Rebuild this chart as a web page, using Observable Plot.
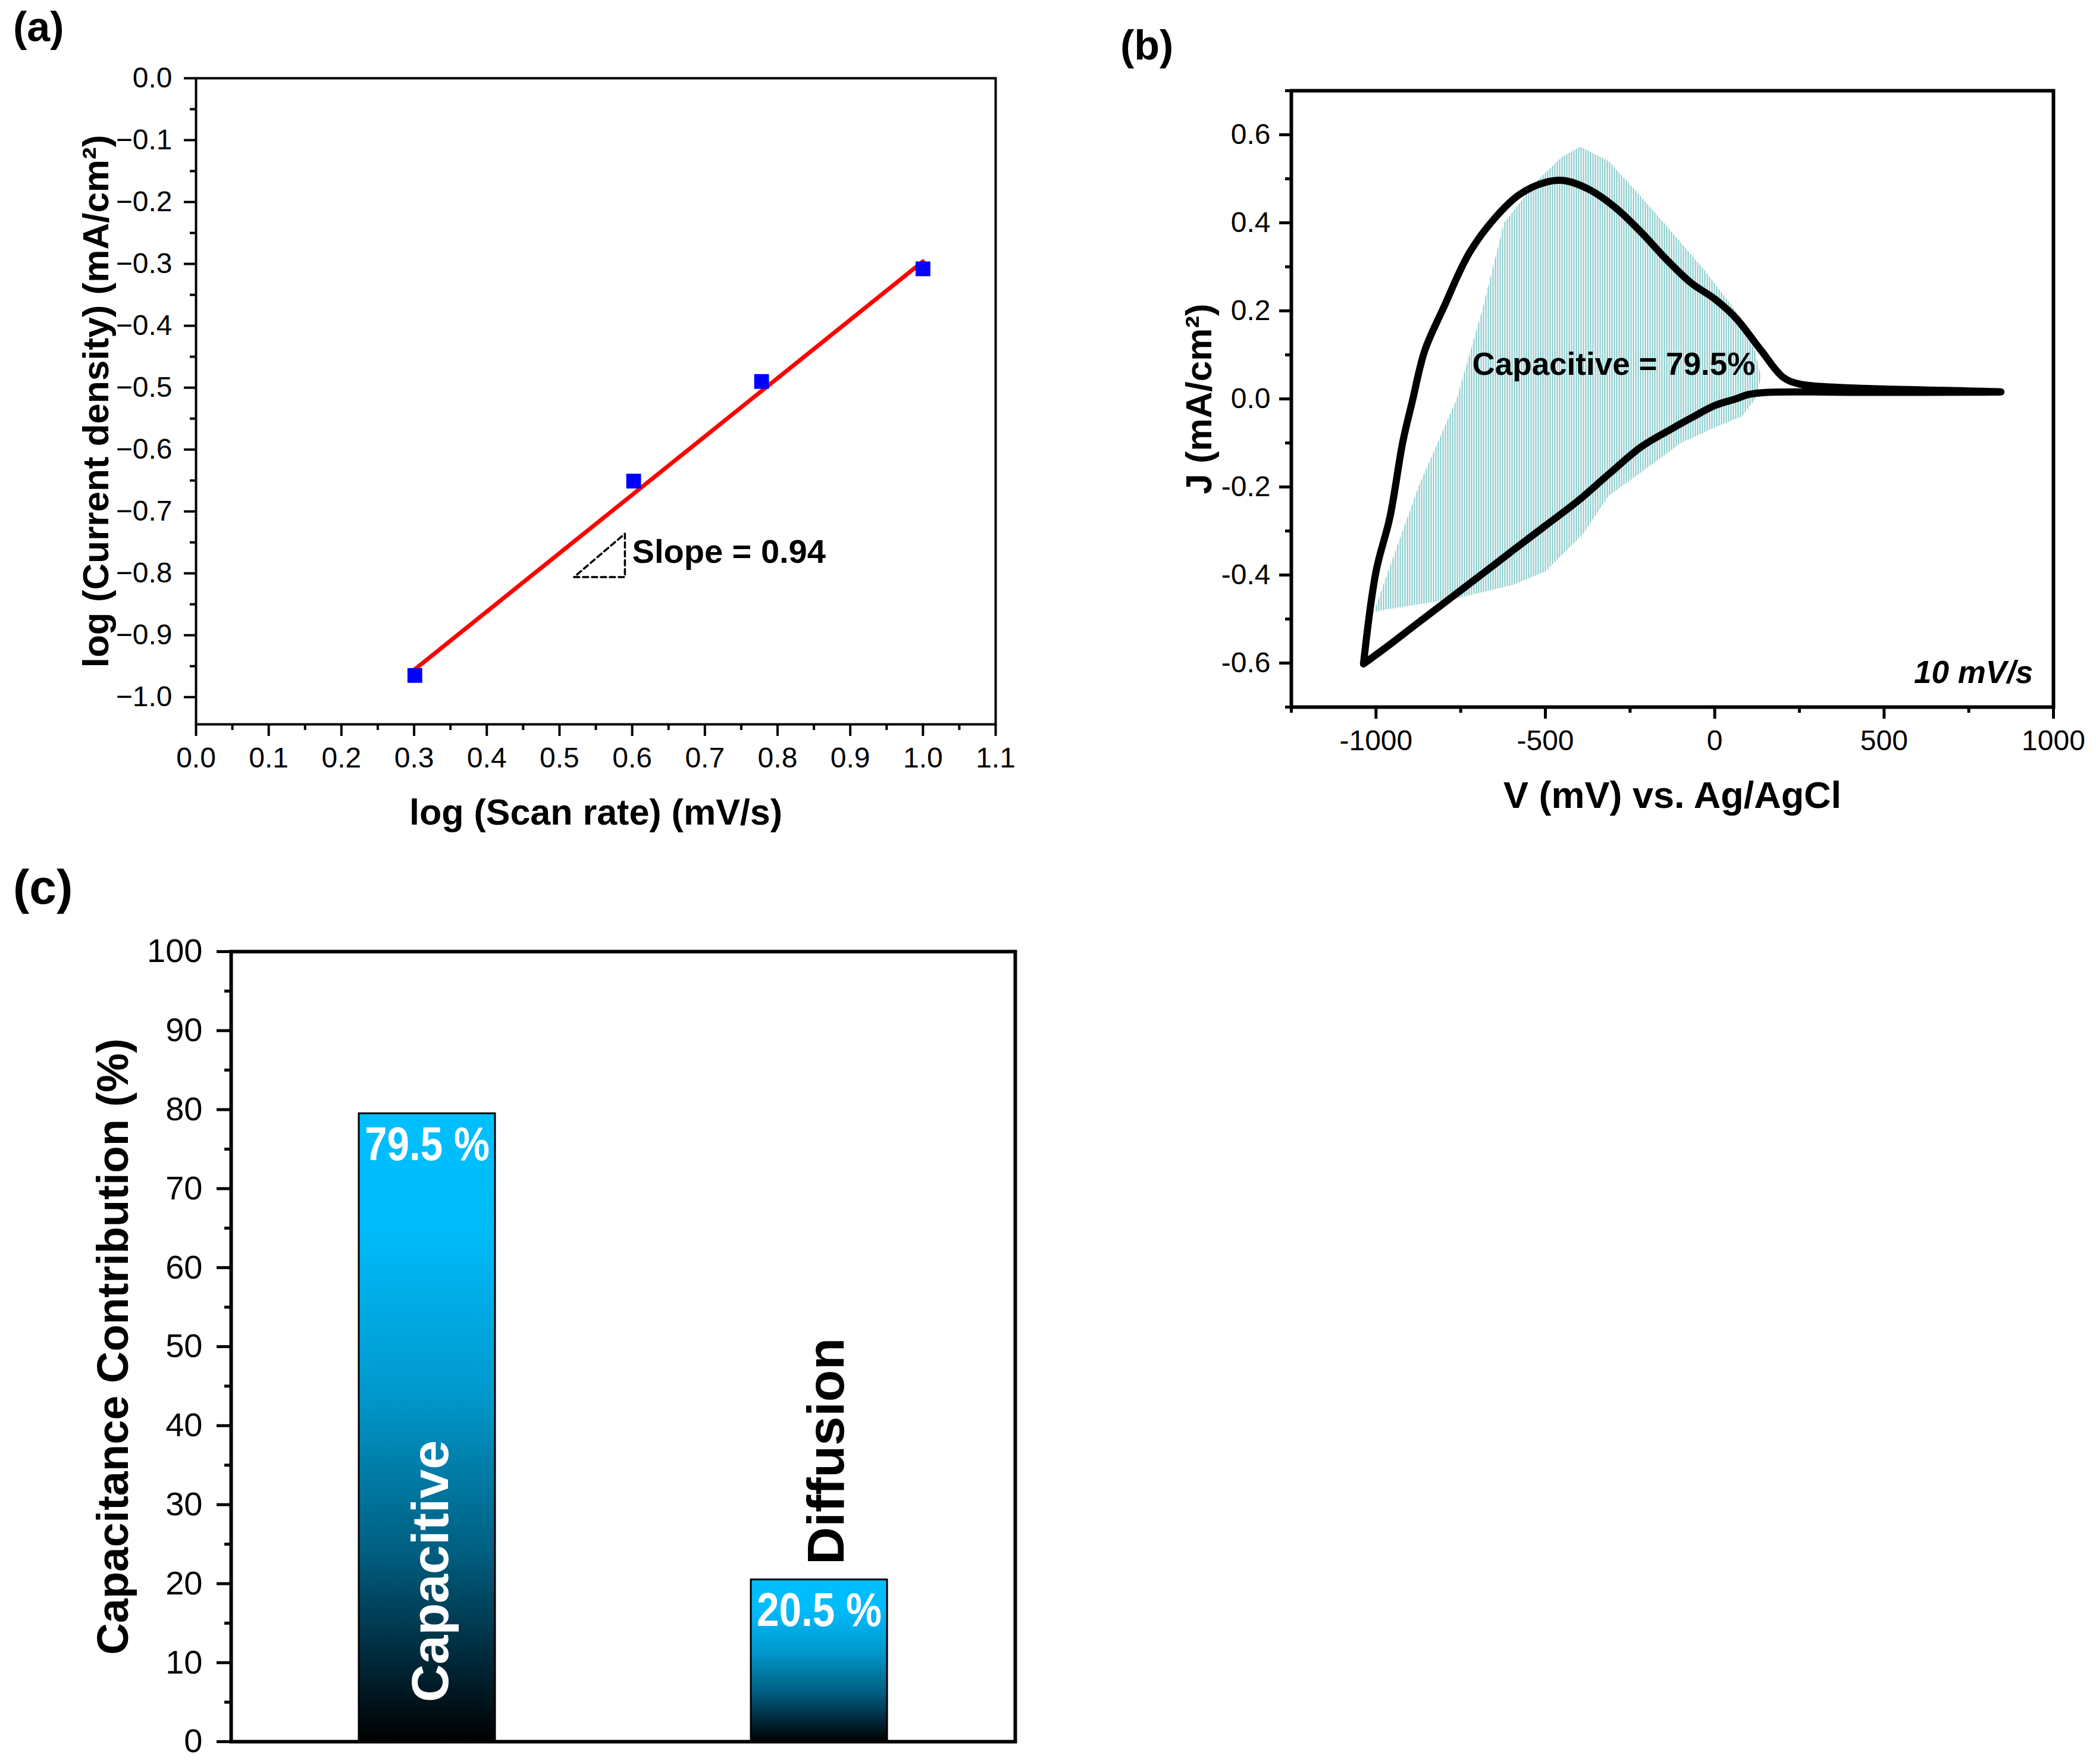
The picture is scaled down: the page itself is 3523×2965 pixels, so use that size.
<!DOCTYPE html>
<html>
<head>
<meta charset="utf-8">
<script src="https://cdn.jsdelivr.net/npm/d3@7"></script>
<script src="https://cdn.jsdelivr.net/npm/@observablehq/plot@0.6"></script>
<style>
  body { margin: 0; background: #fff; }
  #page { position: relative; width: 3523px; height: 2965px; background: #fff;
          font-family: "Liberation Sans", Arial, sans-serif; color: #000; }
  .panel { position: absolute; }
  .tag { position: absolute; font-weight: bold; line-height: 1; }
</style>
</head>
<body>
<div id="page">
  <div id="visA" class="panel" style="left:0;top:0;width:1760px;height:1420px"></div>
  <div id="visB" class="panel" style="left:1760px;top:0;width:1763px;height:1420px"></div>
  <div id="visC" class="panel" style="left:0;top:1420px;width:1760px;height:1545px"></div>
  <div class="tag" style="left:22px;top:10px;font-size:70px">(a)</div>
  <div class="tag" style="left:1883px;top:41px;font-size:70px">(b)</div>
  <div class="tag" style="left:22px;top:1450px;font-size:82px">(c)</div>
</div>
<script>
// ---------- (a) log J vs log scan rate
const logScanRate = [0.301, 0.602, 0.778, 1.0]
const logCurrent = [-0.965, -0.651, -0.490, -0.308]
// fitted line end points
const fitRate = [0.3, 1.0]
const fitCurrent = [-0.956, -0.296]
// dashed slope triangle
const triRate = [0.52, 0.59, 0.59, 0.52]
const triCurrent = [-0.806, -0.806, -0.736, -0.806]
const aTicksX = [0, 0.1, 0.2, 0.3, 0.4, 0.5, 0.6, 0.7, 0.8, 0.9, 1.0, 1.1]
const aMinorX = [0.05, 0.15, 0.25, 0.35, 0.45, 0.55, 0.65, 0.75, 0.85, 0.95, 1.05]
const aTicksY = [0, -0.1, -0.2, -0.3, -0.4, -0.5, -0.6, -0.7, -0.8, -0.9, -1.0]
const aMinorY = [-0.05, -0.15, -0.25, -0.35, -0.45, -0.55, -0.65, -0.75, -0.85, -0.95]
const slopeNote = [{text: "Slope = 0.94", x: 0.6, y: -0.766}]

// ---------- (b) CV loop at 10 mV/s
const cvVoltage = [-1037, -1000, -959, -921, -893, -856, -800, -725, -650, -575, -500, -444, -369, -294,
  -219, -144, -69, 0, 62, 137, 202, 249, 343, 530, 845,
  436, 155, 99, 62, 0, -69, -125, -219, -313, -406, -500, -594, -687, -781, -875, -968, -1037]
const cvCurrent = [-0.602, -0.392, -0.269, -0.098, -0.006, 0.110, 0.208, 0.331, 0.410, 0.465, 0.492, 0.496, 0.475, 0.435,
  0.380, 0.318, 0.263, 0.227, 0.184, 0.110, 0.049, 0.034, 0.027, 0.022, 0.016,
  0.015, 0.015, 0.010, 0.0, -0.015, -0.043, -0.067, -0.110, -0.171, -0.233, -0.288, -0.343, -0.398, -0.453, -0.508, -0.563, -0.602]
// capacitive (shaded) region outline
const capVoltage = [-1006, -968, -875, -762, -687, -622, -519, -450, -397, -313, -230, -150, -32, 62, 118, 137,
  120, 80, 0, -100, -182, -313, -388, -500, -594, -762, -968]
const capCurrent = [-0.484, -0.40, -0.20, 0.0, 0.20, 0.40, 0.50, 0.55, 0.573, 0.54, 0.47, 0.40, 0.294, 0.20, 0.11, 0.049,
  0.0, -0.04, -0.065, -0.10, -0.147, -0.22, -0.306, -0.392, -0.422, -0.453, -0.478]
const bTicksX = [-1000, -500, 0, 500, 1000]
const bMinorX = [-1250, -750, -250, 250, 750]
const bTicksY = [-0.6, -0.4, -0.2, 0, 0.2, 0.4, 0.6]
const bMinorY = [-0.7, -0.5, -0.3, -0.1, 0.1, 0.3, 0.5, 0.7]
const capNote = [{text: "Capacitive = 79.5%", x: -716, y: 0.077}]
const rateNote = [{text: "10 mV/s", x: 940, y: -0.622}]

// ---------- (c) contributions
const categories = ["Capacitive", "Diffusion"]
const contributions = [79.5, 20.5]
const pctLabels = ["79.5 %", "20.5 %"]
const nameStart = [5.0, 22.4]
const cTicksY = [0, 10, 20, 30, 40, 50, 60, 70, 80, 90, 100]
const cMinorY = [5, 15, 25, 35, 45, 55, 65, 75, 85, 95]

const FONT = '"Liberation Sans", Arial, sans-serif'
const baseStyle = {fontFamily: FONT, background: "transparent", overflow: "visible", maxWidth: "none", color: "black"}

function drawA() {
  const pts = logScanRate.map((x, i) => ({x, y: logCurrent[i]}))
  const fit = fitRate.map((x, i) => ({x, y: fitCurrent[i]}))
  const tri = triRate.map((x, i) => ({x, y: triCurrent[i]}))
  const plot = Plot.plot({
    width: 1760, height: 1420,
    marginLeft: 329, marginRight: 87, marginTop: 131, marginBottom: 203,
    style: {...baseStyle, fontSize: "48px"},
    x: {domain: [0, 1.1]},
    y: {domain: [-1.044, 0]},
    marks: [
      Plot.line(fit, {x: "x", y: "y", stroke: "#ff0000", strokeWidth: 7}),
      Plot.dot(pts, {x: "x", y: "y", symbol: "square", r: 14, fill: "#0000ff", stroke: "none"}),
      Plot.line(tri, {x: "x", y: "y", stroke: "black", strokeWidth: 3.5, strokeDasharray: "9,6"}),
      Plot.text(slopeNote, {x: "x", y: "y", text: "text", textAnchor: "start", fontSize: 56, fontWeight: "bold"}),
      Plot.frame({stroke: "black", strokeWidth: 4}),
      Plot.axisX({ticks: aMinorX, tickSize: 10, strokeWidth: 4, text: null, label: null}),
      Plot.axisX({ticks: aTicksX, tickSize: 20, tickPadding: 18, strokeWidth: 4, fontSize: 48,
        tickFormat: d3.format(".1f"), label: null}),
      Plot.axisY({ticks: aMinorY, tickSize: 10, strokeWidth: 4, text: null, label: null}),
      Plot.axisY({ticks: aTicksY, tickSize: 20, tickPadding: 20, strokeWidth: 4, fontSize: 48,
        tickFormat: d3.format(".1f"), label: null}),
      Plot.text(["log (Current density) (mA/cm²)"], {frameAnchor: "left", dx: -167, rotate: -90,
        textAnchor: "middle", lineAnchor: "middle", fontSize: 62, fontWeight: "bold"}),
      Plot.text(["log (Scan rate) (mV/s)"], {frameAnchor: "bottom", dy: 149, textAnchor: "middle",
        lineAnchor: "middle", fontSize: 61, fontWeight: "bold"})
    ]
  })
  const div = document.querySelector("#visA")
  div.innerText = ''
  div.append(plot)
}

function drawB() {
  const cv = cvVoltage.map((x, i) => ({x, y: cvCurrent[i]}))
  const cap = capVoltage.map((x, i) => ({x, y: capCurrent[i]}))
  const dotsPattern = () => {
    const defs = d3.create("svg:defs")
    const p = defs.append("pattern").attr("id", "capDots")
      .attr("patternUnits", "userSpaceOnUse").attr("width", 4).attr("height", 4)
    p.append("rect").attr("x", 0).attr("y", 0).attr("width", 2).attr("height", 1).attr("fill", "#008f8f")
    p.append("rect").attr("x", 0).attr("y", 2).attr("width", 2).attr("height", 1).attr("fill", "#008f8f")
    return defs.node()
  }
  const fmt = d => d3.format(".1f")(d).replace("−", "-")
  const plot = Plot.plot({
    width: 1763, height: 1420,
    marginLeft: 410, marginRight: 72, marginTop: 152, marginBottom: 232,
    style: {...baseStyle, fontSize: "48px"},
    x: {domain: [-1250, 1000]},
    y: {domain: [-0.7, 0.7]},
    marks: [
      dotsPattern,
      Plot.line(cap, {x: "x", y: "y", fill: "url(#capDots)", stroke: "none"}),
      Plot.line(cv, {x: "x", y: "y", stroke: "black", strokeWidth: 12, curve: "catmull-rom",
        strokeLinejoin: "round", strokeLinecap: "round"}),
      Plot.text(capNote, {x: "x", y: "y", text: "text", textAnchor: "start", fontSize: 53, fontWeight: "bold"}),
      Plot.text(rateNote, {x: "x", y: "y", text: "text", textAnchor: "end", fontSize: 53,
        fontWeight: "bold", fontStyle: "italic"}),
      Plot.frame({stroke: "black", strokeWidth: 6}),
      Plot.axisX({ticks: bMinorX, tickSize: 10, strokeWidth: 5, text: null, label: null}),
      Plot.axisX({ticks: bTicksX, tickSize: 20, tickPadding: 18, strokeWidth: 5, fontSize: 48,
        tickFormat: d => String(d), label: null}),
      Plot.axisY({ticks: bMinorY, tickSize: 10, strokeWidth: 5, text: null, label: null}),
      Plot.axisY({ticks: bTicksY, tickSize: 20, tickPadding: 15, strokeWidth: 5, fontSize: 48,
        tickFormat: fmt, label: null}),
      Plot.text(["J (mA/cm²)"], {frameAnchor: "left", dx: -154, rotate: -90, textAnchor: "middle",
        lineAnchor: "middle", fontSize: 62, fontWeight: "bold"}),
      Plot.text(["V (mV) vs. Ag/AgCl"], {frameAnchor: "bottom", dy: 149, textAnchor: "middle",
        lineAnchor: "middle", fontSize: 63, fontWeight: "bold"})
    ]
  })
  const div = document.querySelector("#visB")
  div.innerText = ''
  div.append(plot)
}

function drawC() {
  const bars = categories.map((cat, i) => ({cat, value: contributions[i], pct: pctLabels[i], start: nameStart[i]}))
  const barGradient = () => {
    const defs = d3.create("svg:defs")
    const g = defs.append("linearGradient").attr("id", "barGrad")
      .attr("x1", 0).attr("y1", 0).attr("x2", 0).attr("y2", 1)
    const stops = [[0, "#00bfff"], [0.18, "#00bcfb"], [0.45, "#0098cc"], [0.7, "#005e80"], [0.88, "#002535"], [1, "#000000"]]
    stops.forEach(([o, c]) => g.append("stop").attr("offset", o).attr("stop-color", c))
    return defs.node()
  }
  const nameStyle = {x: "cat", y: "start", text: "cat", rotate: -90, textAnchor: "start", lineAnchor: "bottom",
    fontSize: 88, fontWeight: "bold"}
  const plot = Plot.plot({
    width: 1760, height: 1545,
    marginLeft: 388, marginRight: 54, marginTop: 179, marginBottom: 38,
    style: {...baseStyle, fontSize: "56px"},
    x: {domain: categories, paddingInner: 0.652, paddingOuter: 0.326, axis: null},
    y: {domain: [0, 100]},
    marks: [
      barGradient,
      Plot.barY(bars, {x: "cat", y: "value", fill: "url(#barGrad)", stroke: "black", strokeWidth: 3}),
      Plot.text(bars, {x: "cat", y: "value", text: "pct", lineAnchor: "bottom", dy: 78, fill: "white",
        fontSize: 80, fontWeight: "bold"}),
      Plot.text(bars.filter(d => d.cat === "Capacitive"), {...nameStyle, dx: 35, fill: "white"}),
      Plot.text(bars.filter(d => d.cat === "Diffusion"), {...nameStyle, dx: 41, fill: "black"}),
      Plot.frame({stroke: "black", strokeWidth: 6}),
      Plot.axisY({ticks: cMinorY, tickSize: 11, strokeWidth: 5, text: null, label: null}),
      Plot.axisY({ticks: cTicksY, tickSize: 24, tickPadding: 24, strokeWidth: 5, fontSize: 56,
        tickFormat: d => String(d), label: null}),
      Plot.text(["Capacitance Contribution (%)"], {frameAnchor: "left", dx: -197, rotate: -90,
        textAnchor: "middle", lineAnchor: "middle", fontSize: 74, fontWeight: "bold"})
    ]
  })
  // the reference uses a narrow face for the percent labels
  d3.select(plot).selectAll("text")
    .filter(function () { return pctLabels.includes(this.textContent) })
    .attr("textLength", 210).attr("lengthAdjust", "spacingAndGlyphs")
  const div = document.querySelector("#visC")
  div.innerText = ''
  div.append(plot)
}

drawA()
drawB()
drawC()
</script>
</body>
</html>
